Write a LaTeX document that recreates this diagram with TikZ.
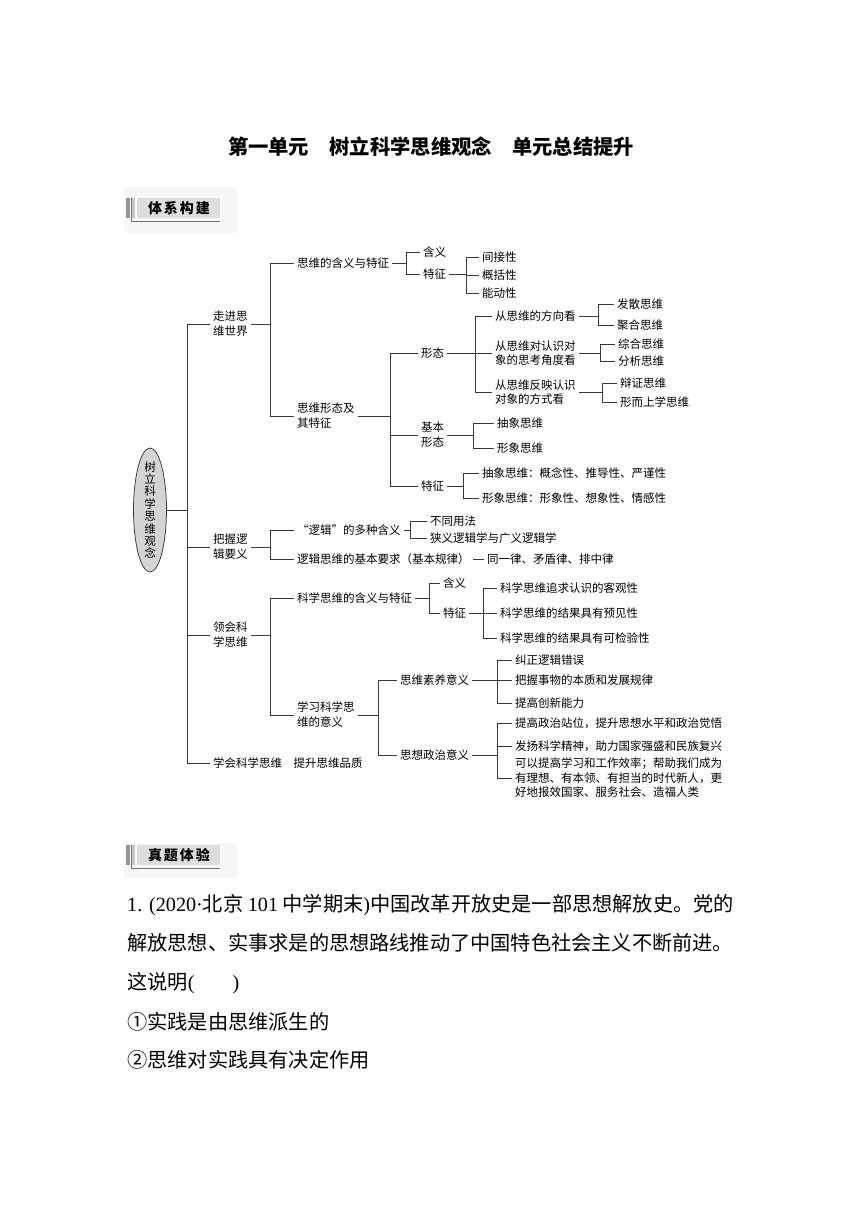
\documentclass[tikz,border=0pt]{standalone}
\usepackage{fontspec}
\setmainfont{Noto Sans CJK SC}
\newfontfamily\lat{Liberation Serif}
\usetikzlibrary{shapes.geometric}
\newcommand\vbar[4]{%
  \draw[conn] (#1.east) -- (#2,0 |- #1.east);
  \draw[conn] (#2,0 |- #3.west) -- (#2,0 |- #4.west);}
\newcommand\leaf[2]{\draw[conn] (#1,0 |- #2.west) -- (#2.west);}
\begin{document}
\begin{tikzpicture}[x=1pt,y=-1pt,
  conn/.style={draw=black!78, line width=0.75pt},
  t/.style={anchor=west, inner xsep=3pt, inner ysep=1pt, align=left,
            font=\fontsize{11.5}{15}\selectfont},
  tt/.style={t, font=\fontsize{11.5}{14}\selectfont},
  q/.style={anchor=west, inner sep=0pt, font=\fontsize{20.2}{24}\selectfont},
  hd/.style={font=\fontsize{14}{14}\selectfont\bfseries, inner sep=0pt}]
\useasboundingbox (0,0) rectangle (860,1216);

% title
\node[font=\fontsize{20.3}{24}\selectfont\bfseries] (title) at (431,147)
  {第一单元　树立科学思维观念　单元总结提升};

% header 1
\fill[black!3] (124,187) rectangle (237,233);
\fill[black!42] (126,198) rectangle (130,218);
\fill[black!22] (131.5,198) rectangle (135,218);
\draw[black!55, line width=0.8pt] (131.5,198) |- (220,221);
\fill[black!13] (137,198) rectangle (220,218);
\node[hd] (h1) at (179,208) {体\hspace{2pt}系\hspace{2pt}构\hspace{2pt}建};

% header 2
\fill[black!3] (124,843) rectangle (237,878);
\fill[black!42] (126,845) rectangle (130,865);
\fill[black!22] (131.5,845) rectangle (135,865);
\draw[black!55, line width=0.8pt] (131.5,845) |- (220,868);
\fill[black!13] (137,845) rectangle (220,865);
\node[hd] (h2) at (179,855) {真\hspace{2pt}题\hspace{2pt}体\hspace{2pt}验};

% root
\node[ellipse, draw=black!78, line width=0.75pt, fill=black!17,
      minimum width=33pt, minimum height=124pt, inner sep=0pt] (R) at (150,510) {};
\node[align=center, inner sep=0pt, font=\fontsize{11.5}{12.4}\selectfont] (Rt) at (R.center)
  {树\\立\\科\\学\\思\\维\\观\\念};

% level 1
\node[t] (L1) at (210,324) {走进思\\维世界};
\node[t] (L2) at (210,547) {把握逻\\辑要义};
\node[t] (L3) at (210,635) {领会科\\学思维};
\node[t] (L4) at (210,763) {学会科学思维　提升思维品质};
\draw[conn] (R.east) -- (187,0 |- R.east);
\draw[conn] (187,0 |- L1.west) -- (187,0 |- L4.west);
\leaf{187}{L1}\leaf{187}{L2}\leaf{187}{L3}\leaf{187}{L4}

% branch 1
\node[t] (A1) at (294,263) {思维的含义与特征};
\node[t] (A2) at (294,416) {思维形态及\\其特征};
\vbar{L1}{270}{A1}{A2}\leaf{270}{A1}\leaf{270}{A2}

\node[t] (A1a) at (420,252) {含义};
\node[t] (A1b) at (420,274) {特征};
\vbar{A1}{406}{A1a}{A1b}\leaf{406}{A1a}\leaf{406}{A1b}

\node[t] (A1b1) at (479,257) {间接性};
\node[t] (A1b2) at (479,275) {概括性};
\node[t] (A1b3) at (479,293) {能动性};
\vbar{A1b}{466}{A1b1}{A1b3}\leaf{466}{A1b1}\leaf{466}{A1b2}\leaf{466}{A1b3}

\node[t] (A2a) at (418,353) {形态};
\node[t] (A2b) at (418,435) {基本\\形态};
\node[t] (A2c) at (418,486) {特征};
\vbar{A2}{390}{A2a}{A2c}\leaf{390}{A2a}\leaf{390}{A2b}\leaf{390}{A2c}

\node[tt] (F1) at (492,316) {从思维的方向看};
\node[tt] (F2) at (492,353) {从思维对认识对\\象的思考角度看};
\node[tt] (F3) at (492,392) {从思维反映认识\\对象的方式看};
\vbar{A2a}{475}{F1}{F3}\leaf{475}{F1}\leaf{475}{F2}\leaf{475}{F3}

\node[t] (F1a) at (614,304) {发散思维};
\node[t] (F1b) at (614,325) {聚合思维};
\vbar{F1}{598}{F1a}{F1b}\leaf{598}{F1a}\leaf{598}{F1b}

\node[t] (F2a) at (615,344) {综合思维};
\node[t] (F2b) at (615,361) {分析思维};
\vbar{F2}{600}{F2a}{F2b}\leaf{600}{F2a}\leaf{600}{F2b}

\node[t] (F3a) at (617,383) {辩证思维};
\node[t] (F3b) at (617,402) {形而上学思维};
\vbar{F3}{602}{F3a}{F3b}\leaf{602}{F3a}\leaf{602}{F3b}

\node[t] (A2b1) at (494,423) {抽象思维};
\node[t] (A2b2) at (494,448) {形象思维};
\vbar{A2b}{473}{A2b1}{A2b2}\leaf{473}{A2b1}\leaf{473}{A2b2}

\node[t] (A2c1) at (479,473) {抽象思维：概念性、推导性、严谨性};
\node[t] (A2c2) at (479,498) {形象思维：形象性、想象性、情感性};
\vbar{A2c}{463}{A2c1}{A2c2}\leaf{463}{A2c1}\leaf{463}{A2c2}

% branch 2
\node[t] (B1) at (294,530) {“逻辑”的多种含义};
\node[t] (B2) at (294,559) {逻辑思维的基本要求（基本规律）};
\vbar{L2}{270}{B1}{B2}\leaf{270}{B1}\leaf{270}{B2}

\node[t] (B1a) at (427,521) {不同用法};
\node[t] (B1b) at (427,538) {狭义逻辑学与广义逻辑学};
\vbar{B1}{410}{B1a}{B1b}\leaf{410}{B1a}\leaf{410}{B1b}

\node[t] (B2x) at (484,559) {同一律、矛盾律、排中律};
\draw[conn] (B2.east) -- (B2x.west);

% branch 3
\node[t] (C1) at (294,598) {科学思维的含义与特征};
\node[t] (C2) at (294,715) {学习科学思\\维的意义};
\vbar{L3}{270}{C1}{C2}\leaf{270}{C1}\leaf{270}{C2}

\node[t] (C1a) at (440,583) {含义};
\node[t] (C1b) at (440,613) {特征};
\vbar{C1}{429}{C1a}{C1b}\leaf{429}{C1a}\leaf{429}{C1b}

\node[t] (C1b1) at (497,588) {科学思维追求认识的客观性};
\node[t] (C1b2) at (497,613) {科学思维的结果具有预见性};
\node[t] (C1b3) at (497,638) {科学思维的结果具有可检验性};
\vbar{C1b}{483}{C1b1}{C1b3}\leaf{483}{C1b1}\leaf{483}{C1b2}\leaf{483}{C1b3}

\node[t] (S1) at (397,680) {思维素养意义};
\node[t] (S2) at (397,755) {思想政治意义};
\vbar{C2}{378}{S1}{S2}\leaf{378}{S1}\leaf{378}{S2}

\node[t] (S1a) at (512,660) {纠正逻辑错误};
\node[t] (S1b) at (512,680) {把握事物的本质和发展规律};
\node[t] (S1c) at (512,703) {提高创新能力};
\vbar{S1}{497}{S1a}{S1c}\leaf{497}{S1a}\leaf{497}{S1b}\leaf{497}{S1c}

\node[t] (S2a) at (512,723) {提高政治站位，提升思想水平和政治觉悟};
\node[t] (S2b) at (512,746) {发扬科学精神，助力国家强盛和民族复兴};
\node[t, font=\fontsize{11.5}{14.5}\selectfont] (S2c) at (512,778)
  {可以提高学习和工作效率；帮助我们成为\\有理想、有本领、有担当的时代新人，更\\好地报效国家、服务社会、造福人类};
\vbar{S2}{497}{S2a}{S2c}\leaf{497}{S2a}\leaf{497}{S2b}\leaf{497}{S2c}

% question
\node[q] (q1) at (127,905) {{\lat 1. (2020·}北京 {\lat 101} 中学期末{\lat )}中国改革开放史是一部思想解放史。党的};
\node[q] (q2) at (127,943) {解放思想、实事求是的思想路线推动了中国特色社会主义不断前进。};
\node[q] (q3) at (127,983) {这说明{\lat (}\hspace{38pt}{\lat )}};
\node[q] (q4) at (127,1022) {①实践是由思维派生的};
\node[q] (q5) at (127,1060) {②思维对实践具有决定作用};
\end{tikzpicture}
\end{document}
